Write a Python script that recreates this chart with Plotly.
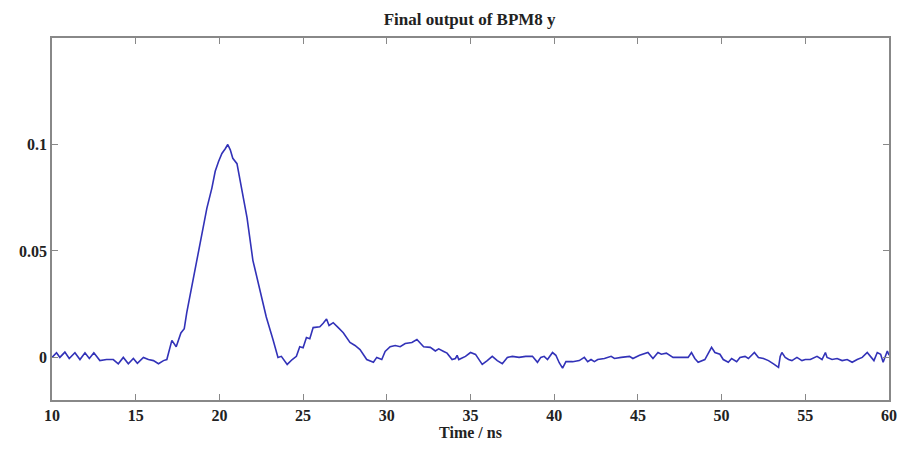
import plotly.graph_objects as go

time_ns = [
    10.0, 10.27, 10.47, 10.77, 11.03, 11.37, 11.67, 11.97, 12.23, 12.5,
    12.86, 13.26, 13.66, 13.96, 14.26, 14.56, 14.86, 15.1, 15.46, 15.76,
    16.06, 16.36, 16.66, 16.86, 17.16, 17.42, 17.7, 17.9, 18.05, 18.35,
    18.65, 18.95, 19.25, 19.55, 19.75, 19.95, 20.15, 20.35, 20.5, 20.65,
    20.8, 21.05, 21.35, 21.65, 22.0, 22.4, 22.8, 23.2, 23.5, 23.7,
    24.05, 24.35, 24.6, 24.8, 25.0, 25.2, 25.4, 25.6, 26.0, 26.2,
    26.4, 26.55, 26.8, 27.1, 27.4, 27.8, 28.1, 28.4, 28.8, 29.2,
    29.4, 29.7, 29.9, 30.2, 30.5, 30.8, 31.1, 31.5, 31.8, 32.2,
    32.6, 32.9, 33.1, 33.4, 33.6, 33.9, 34.1, 34.2, 34.3, 34.7,
    35.0, 35.3, 35.7, 36.0, 36.3, 36.6, 36.9, 37.2, 37.5, 37.9,
    38.3, 38.7, 39.0, 39.2, 39.4, 39.6, 39.9, 40.1, 40.3, 40.5,
    40.7, 41.1, 41.5, 41.8, 42.0, 42.2, 42.4, 42.6, 43.0, 43.4,
    43.6, 44.0, 44.5, 44.7, 45.1, 45.6, 45.9, 46.2, 46.4, 46.7,
    47.1, 47.5, 48.0, 48.2, 48.4, 48.6, 48.8, 49.0, 49.4, 49.6,
    49.9, 50.1, 50.4, 50.6, 50.9, 51.1, 51.4, 51.6, 51.96, 52.2,
    52.5, 52.8, 53.1, 53.4, 53.5, 53.6, 53.8, 54.0, 54.2, 54.5,
    54.8, 55.0, 55.3, 55.7, 56.0, 56.2, 56.3, 56.6, 56.9, 57.2,
    57.5, 57.8, 58.1, 58.4, 58.7, 58.9, 59.1, 59.3, 59.5, 59.65,
    59.9, 60.0,
]

bpm8_y = [
    0.0, 0.0022, 0.0, 0.0025, -0.0005, 0.0022, -0.001, 0.0022, -0.0005, 0.0022,
    -0.0015, -0.001, -0.001, -0.003, 0.0, -0.003, -0.0005, -0.0028, 0.0, -0.001,
    -0.0015, -0.003, -0.0015, -0.001, 0.008, 0.005, 0.0115, 0.0135, 0.021, 0.033,
    0.0456, 0.058, 0.07, 0.0795, 0.0874, 0.092, 0.0958, 0.098, 0.1, 0.0975,
    0.0935, 0.091, 0.078, 0.0656, 0.0456, 0.0316, 0.019, 0.0084, 0.0, 0.0005,
    -0.0033, -0.001, 0.0005, 0.005, 0.0045, 0.0093, 0.0088, 0.014, 0.0144, 0.016,
    0.018, 0.015, 0.0163, 0.014, 0.0116, 0.007, 0.0056, 0.0037, -0.001, -0.0023,
    0.0, -0.001, 0.0028, 0.005, 0.0056, 0.005, 0.0065, 0.007, 0.0084, 0.005,
    0.0047, 0.003, 0.004, 0.0028, 0.002, -0.001, -0.0005, 0.001, -0.001, 0.0005,
    0.0023, 0.0014, -0.0033, -0.0015, 0.0005, -0.0015, -0.003, 0.0, 0.0005, 0.0,
    0.0005, 0.0005, -0.0023, 0.0, 0.0005, -0.001, 0.0023, 0.001, -0.0025, -0.005,
    -0.002, -0.002, -0.0015, 0.0, -0.002, -0.001, -0.002, -0.001, -0.0005, 0.0005,
    -0.0005, 0.0, 0.0005, -0.0005, 0.001, 0.0023, -0.0005, 0.0023, 0.0015, 0.002,
    0.0, 0.0, 0.0, 0.0023, -0.0005, -0.0023, -0.0015, -0.001, 0.0047, 0.0023,
    0.0015, -0.001, -0.0023, -0.0005, -0.002, 0.0, 0.0005, -0.0005, 0.0023, 0.0,
    -0.0005, -0.0015, -0.003, -0.0047, 0.0005, 0.0023, 0.0, -0.001, -0.0015, 0.0,
    -0.0015, -0.001, -0.001, 0.0005, -0.001, 0.0023, 0.0, -0.001, -0.0005, -0.0015,
    -0.001, -0.0023, -0.001, 0.0, 0.0023, 0.0005, -0.0015, 0.0023, 0.0015, -0.0023,
    0.003, 0.001,
]

x_ticks = [10, 15, 20, 25, 30, 35, 40, 45, 50, 55, 60]
y_ticks = [0, 0.05, 0.1]
y_tick_labels = ["0", "0.05", "0.1"]

font_family = "Liberation Serif"

fig = go.Figure()
fig.add_trace(go.Scatter(
    x=time_ns, y=bpm8_y, mode="lines",
    line=dict(color="#3232b8", width=1.6),
    showlegend=False,
))

axis_common = dict(
    showline=True, linecolor="#888888", linewidth=1.5, mirror="ticks",
    ticks="inside", ticklen=6, tickcolor="#888888", tickwidth=1,
    showgrid=False, zeroline=False, automargin=False,
    tickfont=dict(family=font_family, size=16, color="#222222", weight="bold"),
)

fig.update_xaxes(
    range=[10, 60], tickvals=x_ticks, ticklabelstandoff=0,
    title=dict(text="Time / ns", standoff=2,
               font=dict(family=font_family, size=16, color="#222222", weight="bold")),
    **axis_common,
)
fig.update_yaxes(
    range=[-0.02, 0.15], tickvals=y_ticks, ticktext=y_tick_labels,
    **axis_common,
)

fig.update_layout(
    width=907, height=451,
    margin=dict(l=44, r=26, t=30, b=59),
    paper_bgcolor="white", plot_bgcolor="white",
    title=dict(text="Final output of BPM8 y", x=0.509, xanchor="center", y=0.976, yanchor="middle",
               font=dict(family=font_family, size=17, color="#222222", weight="bold")),
)

fig.write_html("out.html")
